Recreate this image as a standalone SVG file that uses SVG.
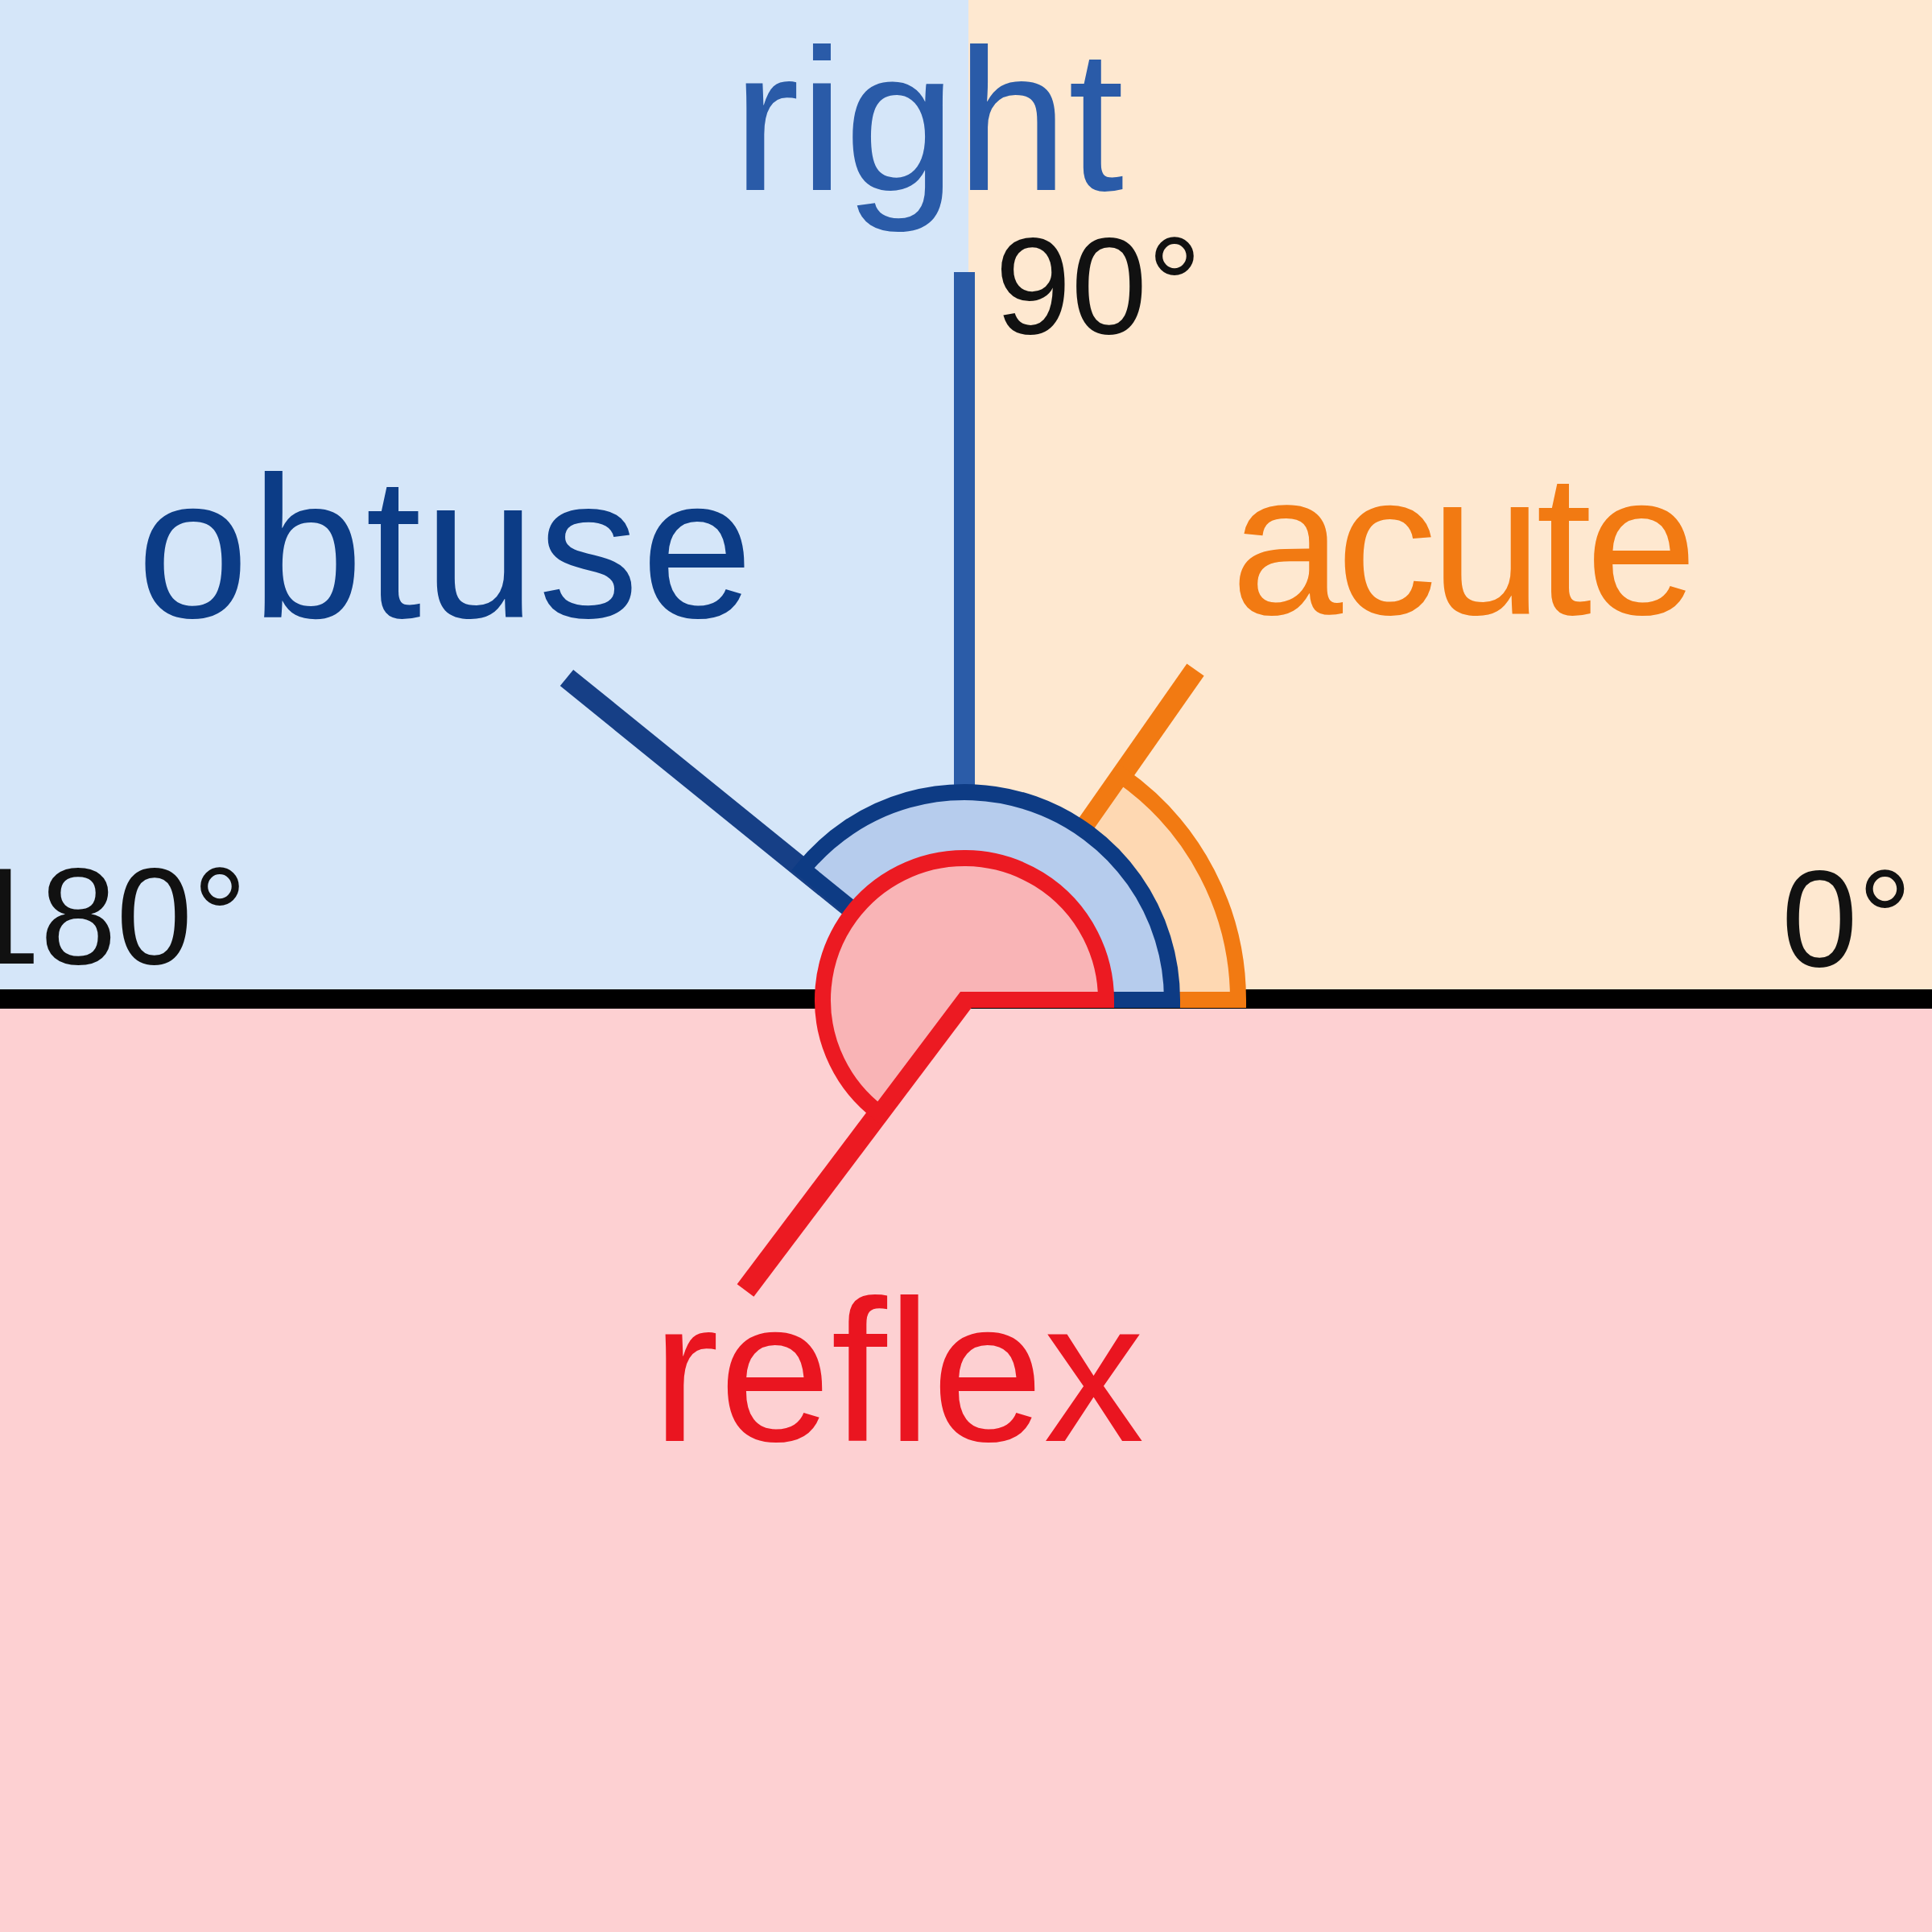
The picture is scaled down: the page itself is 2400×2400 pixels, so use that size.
<svg xmlns="http://www.w3.org/2000/svg" width="2400" height="2400" viewBox="0 0 2400 2400">
<style>
.lbl{font-family:"Liberation Sans",Arial,sans-serif;font-size:250px}
.deg{font-family:"Liberation Sans",Arial,sans-serif;font-size:170px;fill:#111}
.ln{fill:none;stroke-width:26;stroke-linecap:butt}
.sec{stroke-width:20;stroke-linejoin:miter}
</style>
<g id="background">
<rect x="0" y="0" width="1203" height="1241" fill="#d5e6f9"/>
<rect x="1203" y="0" width="1197" height="1241" fill="#fee8d0"/>
<rect x="0" y="1241" width="2400" height="1159" fill="#fdd0d2"/>
<line x1="0" y1="1241" x2="2400" y2="1241" stroke="#000" stroke-width="24"/>
</g>
<g id="connectors">
<line class="ln" x1="1198" y1="1242" x2="1485" y2="832" stroke="#f27a12"/>
<line class="ln" x1="1198" y1="1242" x2="704" y2="842" stroke="#163f86"/>
<line class="ln" x1="1198" y1="1242" x2="1198" y2="338" stroke="#2b5ca8"/>
<line class="ln" x1="1198" y1="1242" x2="926" y2="1603" stroke="#ec1a22"/>
</g>
<g id="acute-sector">
<path class="sec" d="M1198 1242 L1538 1242 A340 340 0 0 0 1393 963.5 Z" fill="#fed8b2" stroke="#f27a12"/>
</g>
<g id="obtuse-sector">
<path class="sec" d="M1198 1242 L1456 1242 A258 258 0 0 0 997.5 1079.6 Z" fill="#b6cced" stroke="#0d3b84"/>
</g>
<g id="reflex-sector">
<path class="sec" d="M1198 1242 L1374 1242 A176 176 0 1 0 1092.1 1382.6 Z" fill="#f9b4b6" stroke="#ec1a22"/>
</g>
<g id="label-right"><text class="lbl" x="910" y="236" fill="#2a5ba8">right</text></g>
<g id="label-90"><text class="deg" x="1236" y="414">90°</text></g>
<g id="label-obtuse"><text class="lbl" x="170" y="767" fill="#0c3c86" letter-spacing="3">obtuse</text></g>
<g id="label-acute"><text class="lbl" x="1529" y="763" fill="#f27a12" letter-spacing="-8">acute</text></g>
<g id="label-180"><text class="deg" x="307" y="1197" text-anchor="end">180°</text></g>
<g id="label-0"><text class="deg" x="2213" y="1200">0°</text></g>
<g id="label-reflex"><text class="lbl" x="810" y="1790" fill="#ea1520">reflex</text></g>
</svg>
